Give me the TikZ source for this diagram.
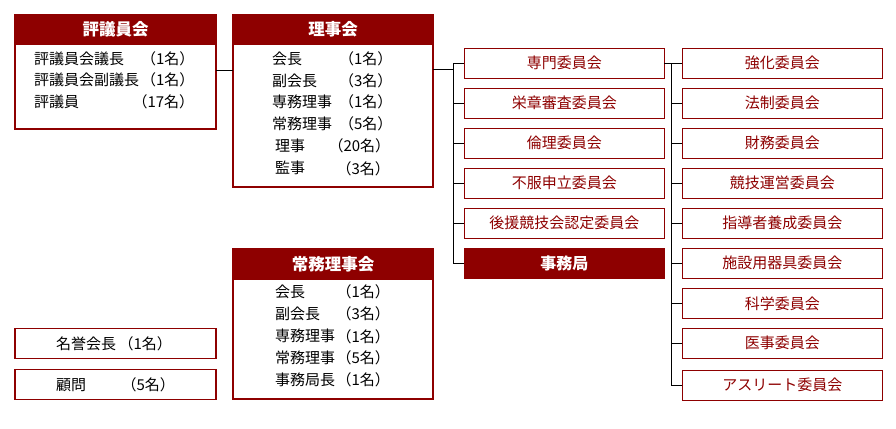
\documentclass[tikz,border=0pt]{standalone}
\usepackage{fontspec}
\setmainfont{Noto Sans CJK JP}
\definecolor{dred}{RGB}{142,0,0}
\begin{document}
\begin{tikzpicture}[x=1pt,y=-1pt,
  frame/.style={draw=dred,line width=1.2pt,inner sep=0,outer sep=0,anchor=north west},
  head/.style={fill=dred,draw=dred,line width=1.2pt,inner sep=0,outer sep=0,anchor=north west,text=white,font=\fontsize{16.5}{18}\selectfont\bfseries},
  cbox/.style={draw=dred,line width=1.2pt,minimum width=200pt,minimum height=30pt,inner sep=0,outer sep=0,text=dred,font=\fontsize{15}{18}\selectfont},
  jbox/.style={cbox,fill=dred,text=white,font=\fontsize{16}{18}\selectfont\bfseries},
  lt/.style={inner sep=0,outer sep=0,anchor=west,text=black,font=\fontsize{15}{18}\selectfont},
  conn/.style={draw=black,line width=1pt}
]
\useasboundingbox[fill=white] (0,0) rectangle (896,428);
\newcommand\mrow[6]{%
  \node[lt] (#1n) at (#2-1,#4) {#5};
  \node[lt] (#1c) at (#3-8.5,#4) {#6};}

% 評議員会
\node[frame,minimum width=201pt,minimum height=114pt] (hyogi) at (15,15) {};
\node[head,minimum width=201pt,minimum height=29pt] (hyogiH) at (15,15) {\raisebox{-1.5pt}{評議員会}};
\mrow{ha}{35}{149.5}{59}{評議員会議長}{（1名）}
\mrow{hb}{35}{149.5}{80}{評議員会副議長}{（1名）}
\mrow{hc}{35}{141}{101.5}{評議員}{（17名）}

% 理事会
\node[frame,minimum width=200pt,minimum height=172pt] (riji) at (233,15) {};
\node[head,minimum width=200pt,minimum height=29pt] (rijiH) at (233,15) {\raisebox{-1.5pt}{理事会}};
\mrow{ra}{273}{347.5}{59}{会長}{（1名）}
\mrow{rb}{273}{347.5}{80.5}{副会長}{（3名）}
\mrow{rc}{273}{347.5}{102}{専務理事}{（1名）}
\mrow{rd}{273}{347.5}{124}{常務理事}{（5名）}
\mrow{re}{276}{337}{146}{理事}{（20名）}
\mrow{rf}{276}{345}{168.3}{監事}{（3名）}

% 常務理事会
\node[frame,minimum width=200pt,minimum height=150pt] (jomu) at (233,249) {};
\node[head,minimum width=200pt,minimum height=30pt] (jomuH) at (233,249) {\raisebox{-1.5pt}{常務理事会}};
\mrow{ja}{276}{345}{292}{会長}{（1名）}
\mrow{jb}{276}{345}{314}{副会長}{（3名）}
\mrow{jc}{276}{345}{336.3}{専務理事}{（1名）}
\mrow{jd}{276}{345}{358}{常務理事}{（5名）}
\mrow{je}{276}{345}{380}{事務局長}{（1名）}

% 名誉会長・顧問
\node[frame,minimum width=201pt,minimum height=30pt] (meiyo) at (15,328.3) {};
\node[frame,minimum width=201pt,minimum height=30pt] (komon) at (15,369.3) {};
\mrow{ma}{57}{127}{343.8}{名誉会長}{（1名）}
\mrow{mb}{57}{130}{384.8}{顧問}{（5名）}

% left committee column
\node[cbox] (c1) at (564.3,63.3) {専門委員会};
\node[cbox] (c2) at (564.3,103.3) {栄章審査委員会};
\node[cbox] (c3) at (564.3,143.3) {倫理委員会};
\node[cbox] (c4) at (564.3,183.3) {不服申立委員会};
\node[cbox] (c5) at (564.3,223.3) {後援競技会認定委員会};
\node[jbox] (c6) at (564.3,263.3) {事務局};

% right committee column
\node[cbox] (s1) at (782.3,63.3) {強化委員会};
\node[cbox] (s2) at (782.3,103.3) {法制委員会};
\node[cbox] (s3) at (782.3,143.3) {財務委員会};
\node[cbox] (s4) at (782.3,183.3) {競技運営委員会};
\node[cbox] (s5) at (782.3,223.3) {指導者養成委員会};
\node[cbox] (s6) at (782.3,263.3) {施設用器具委員会};
\node[cbox] (s7) at (782.3,303.3) {科学委員会};
\node[cbox] (s8) at (782.3,343.3) {医事委員会};
\node[cbox] (s9) at (782.3,385.3) {アスリート委員会};

% connectors
\coordinate (j1) at (224,70.3);
\draw[conn] (hyogi.east |- j1) -- (riji.west |- j1);
\coordinate (t1) at (453.3,69.3);
\draw[conn] (riji.east |- t1) -- (t1);
\draw[conn] (t1 |- c1.west) -- (t1 |- c6.west) -- (c6.west);
\foreach \n in {c1,c2,c3,c4,c5}{\draw[conn] (t1 |- \n.west) -- (\n.west);}
\coordinate (t2) at (671.3,63.3);
\draw[conn] (c1.east) -- (s1.west);
\draw[conn] (t2) -- (t2 |- s9.west) -- (s9.west);
\foreach \n in {s2,s3,s4,s5,s6,s7,s8}{\draw[conn] (t2 |- \n.west) -- (\n.west);}
\end{tikzpicture}
\end{document}
